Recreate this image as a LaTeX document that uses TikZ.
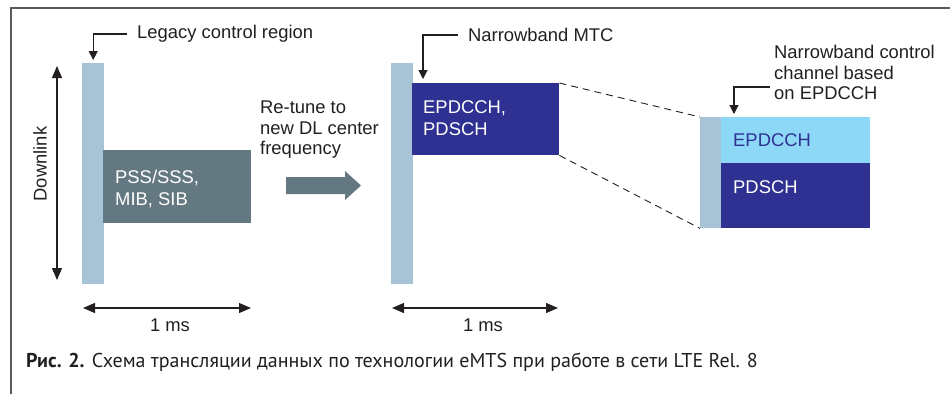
\documentclass[tikz,border=0pt]{standalone}
\usepackage{fontspec}
\setmainfont{Liberation Sans}
\newfontfamily\capfont{PT Sans}
\usetikzlibrary{arrows.meta}
\definecolor{barblue}{HTML}{A6C4D5}
\definecolor{slate}{HTML}{647882}
\definecolor{navy}{HTML}{2E3192}
\definecolor{sky}{HTML}{8ED8F7}
\definecolor{framegray}{HTML}{5A5A5A}
\definecolor{ink}{HTML}{231F20}
\tikzset{
  block/.style={draw=none, inner sep=0pt, anchor=north west},
  lbl/.style={inner sep=0pt, anchor=west, text=ink, font=\fontsize{18.4}{20.5}\selectfont, align=left},
  boxtxt/.style={inner sep=0pt, anchor=west, text=white, font=\fontsize{18.4}{21.5}\selectfont, align=left},
  callout/.style={draw=ink, line width=1.1pt, -{Triangle[width=9pt,length=9pt]}},
  span/.style={draw=ink, line width=1.1pt, {Triangle[width=10pt,length=12pt]}-{Triangle[width=10pt,length=12pt]}},
  zoomline/.style={draw=ink, line width=0.9pt, dash pattern=on 7pt off 5pt},
}
\begin{document}
\begin{tikzpicture}[x=1pt, y=-1pt]
\useasboundingbox (0,0) rectangle (950,394);
% frame
\draw[framegray, line width=1.6pt] (11,394) -- (11,8) -- (950,8);

% ---- legacy subframe ----
\node[block, fill=barblue, minimum width=22pt, minimum height=221pt] (legbar) at (82,63) {};
\node[block, fill=slate, minimum width=148pt, minimum height=73pt] (pss) at (103,150) {};
\node[boxtxt] (psstxt) at (115,189) {PSS/SSS,\\MIB, SIB};
\node[lbl] (leglbl) at (137,34) {Legacy control region};
\draw[callout] ([xshift=-10pt]leglbl.west) -| ([yshift=3pt]legbar.north);

% downlink axis
\coordinate (dltop) at (57,66);
\coordinate (dlbot) at (57,280);
\draw[span] (dlbot) -- (dltop);
\node[lbl, anchor=center, rotate=90] (dllbl) at (40,164) {Downlink};

% 1 ms span
\coordinate (s1a) at (83,308);
\coordinate (s1b) at (251,308);
\draw[span] (s1a) -- (s1b);
\node[lbl, anchor=center] (ms1) at (170,325) {1 ms};

% re-tune
\node[lbl, anchor=north west] (retune) at (260,101) {Re-tune to\\new DL center\\frequency};
\fill[slate] (286,177) -- (345,177) -- (345,171) -- (361,185.5) -- (345,200) -- (345,194) -- (286,194) -- cycle;

% ---- narrowband subframe ----
\node[block, fill=barblue, minimum width=22pt, minimum height=221pt] (nbbar) at (391,63) {};
\node[block, fill=navy, minimum width=147pt, minimum height=72pt] (epd) at (412,83) {};
\node[boxtxt] (epdtxt) at (423,118) {EPDCCH,\\PDSCH};
\node[lbl] (mtclbl) at (468,35) {Narrowband MTC};
\coordinate (mtctip) at (423,79);
\draw[callout] ([xshift=-10pt]mtclbl.west) -| (mtctip);

\coordinate (s2a) at (392,308);
\coordinate (s2b) at (558,308);
\draw[span] (s2a) -- (s2b);
\node[lbl, anchor=center] (ms2) at (483,325) {1 ms};

% ---- zoomed detail ----
\node[block, fill=barblue, minimum width=21pt, minimum height=111pt] (detbar) at (700,117) {};
\node[block, fill=sky, minimum width=149pt, minimum height=46pt] (detctl) at (721,117) {};
\node[block, fill=navy, minimum width=149pt, minimum height=65pt] (detdata) at (721,163) {};
\node[boxtxt, text=navy] (ctltxt) at (733,140) {EPDCCH};
\node[boxtxt] (datatxt) at (733,187) {PDSCH};
\node[lbl, anchor=north west] (detlbl) at (774,45) {Narrowband control\\channel based\\on EPDCCH};
\coordinate (detelbow) at (770,87);
\coordinate (dettip) at (734,114);
\draw[callout] (detelbow) -| (dettip);

\draw[zoomline] (epd.north east) -- (detbar.north west);
\draw[zoomline] (epd.south east) -- (detbar.south west);

% caption
\node[inner sep=0pt, anchor=west, text=ink, font=\capfont\fontsize{20}{22}\selectfont] (caption) at (26,362)
  {\textbf{Рис. 2.} Схема трансляции данных по технологии eMTS при работе в сети LTE Rel. 8};
\end{tikzpicture}
\end{document}
